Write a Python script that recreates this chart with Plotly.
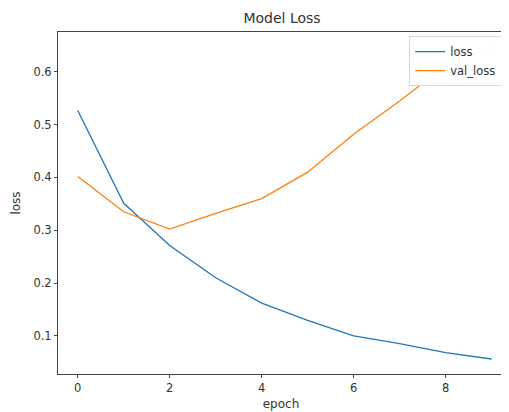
import plotly.graph_objects as go

epochs = [0, 1, 2, 3, 4, 5, 6, 7, 8, 9]
loss = [0.527, 0.351, 0.271, 0.210, 0.162, 0.129, 0.100, 0.085, 0.068, 0.056]
val_loss = [0.402, 0.335, 0.302, 0.332, 0.360, 0.410, 0.482, 0.545, 0.612, 0.647]
x_ticks = [0, 2, 4, 6, 8]
y_ticks = [0.1, 0.2, 0.3, 0.4, 0.5, 0.6]

FONT = "DejaVu Sans"
TXT = "#333333"

fig = go.Figure()
fig.add_trace(go.Scatter(x=epochs, y=loss, mode="lines", name="loss",
                         line=dict(color="#1f77b4", width=1.3)))
fig.add_trace(go.Scatter(x=epochs, y=val_loss, mode="lines", name="val_loss",
                         line=dict(color="#ff7f0e", width=1.3)))

axis_common = dict(showline=True, linecolor="#444444", linewidth=1, mirror=True,
                   showgrid=False, zeroline=False, ticks="outside", ticklen=3,
                   tickcolor="#444444", tickfont=dict(family=FONT, size=11.5, color=TXT))

# The page body has an 8px margin, so the figure is drawn 8px smaller
fig.update_layout(
    width=501, height=404,
    margin=dict(l=50, r=4, t=24, b=34),
    paper_bgcolor="white", plot_bgcolor="white",
    title=dict(text="Model Loss", x=0.547, xanchor="center", y=0.975, yanchor="middle",
               font=dict(family=FONT, size=14, color=TXT)),
    xaxis=dict(range=[-0.43, 9.27], tickvals=x_ticks, ticktext=[str(v) for v in x_ticks],
               title=dict(text="epoch", font=dict(family=FONT, size=12, color=TXT), standoff=5),
               **axis_common),
    yaxis=dict(range=[0.0276, 0.6756], tickvals=y_ticks, ticktext=[f"{v:.1f}" for v in y_ticks],
               title=dict(text="loss", font=dict(family=FONT, size=12, color=TXT), standoff=10),
               **axis_common),
    legend=dict(x=0.996, y=0.988, xanchor="right", yanchor="top",
                bgcolor="rgba(255,255,255,0.96)", bordercolor="#d8d8d8", borderwidth=1,
                font=dict(family=FONT, size=11.5, color=TXT),
                itemwidth=30, tracegroupgap=0),
    showlegend=True,
)

fig.write_html("out.html")
